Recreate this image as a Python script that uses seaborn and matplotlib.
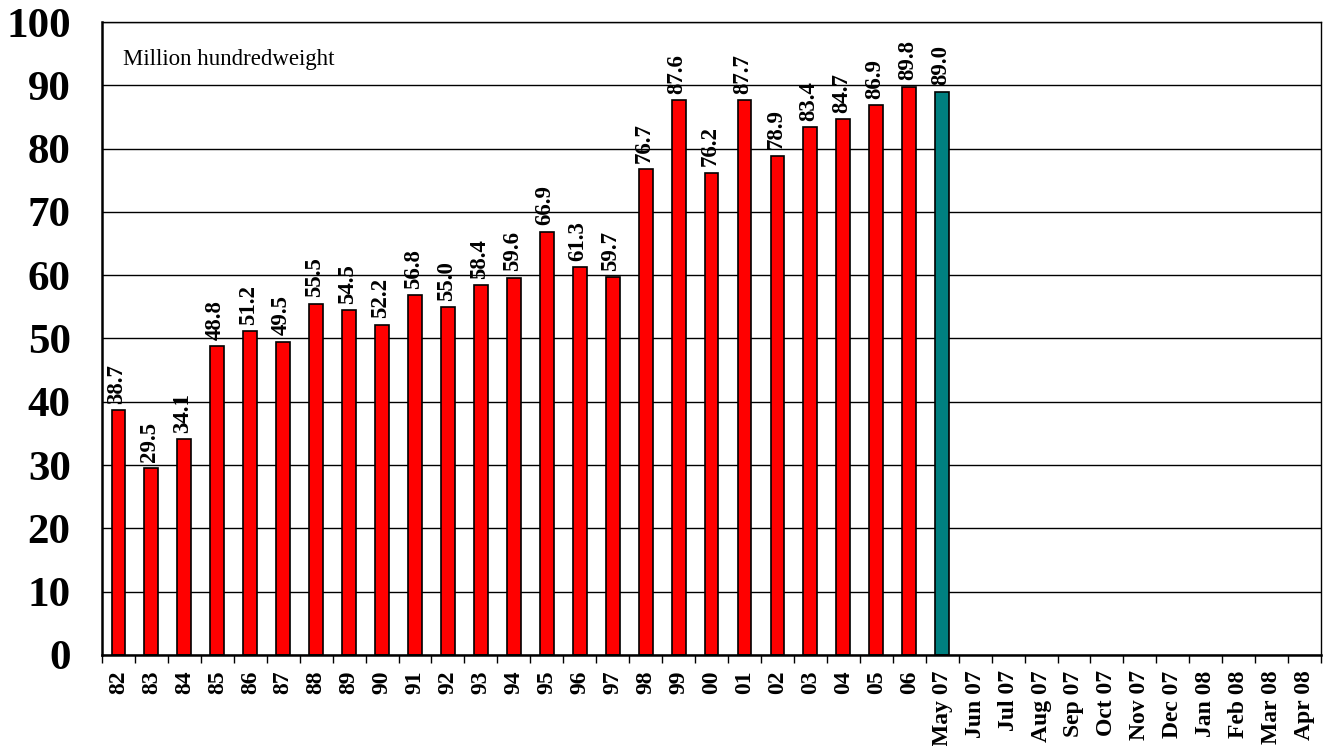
import pandas as pd
import matplotlib.pyplot as plt
import seaborn as sns

years = ["82", "83", "84", "85", "86", "87", "88", "89", "90", "91", "92", "93", "94",
         "95", "96", "97", "98", "99", "00", "01", "02", "03", "04", "05", "06"]
months = ["May 07", "Jun 07", "Jul 07", "Aug 07", "Sep 07", "Oct 07", "Nov 07",
          "Dec 07", "Jan 08", "Feb 08", "Mar 08", "Apr 08"]
year_values = [38.7, 29.5, 34.1, 48.8, 51.2, 49.5, 55.5, 54.5, 52.2, 56.8, 55.0, 58.4, 59.6,
               66.9, 61.3, 59.7, 76.7, 87.6, 76.2, 87.7, 78.9, 83.4, 84.7, 86.9, 89.8]
month_values = [89.0]

labels = years + months
df = pd.DataFrame({
    "period": years + months[:len(month_values)],
    "value": year_values + month_values,
    "kind": ["annual"] * len(years) + ["monthly"] * len(month_values),
})

sns.set_style("white")
plt.rcParams["font.family"] = ["Liberation Serif", "DejaVu Serif"]
plt.rcParams["text.color"] = "black"
plt.rcParams["xtick.color"] = "black"
plt.rcParams["ytick.color"] = "black"

fig = plt.figure(figsize=(13.28, 7.46), dpi=100)
ax = fig.add_axes([0.0768, 0.122, 0.918, 0.8485])

sns.barplot(data=df, x="period", y="value", hue="kind", order=labels,
            palette={"annual": "#ff0000", "monthly": "#008080"}, saturation=1,
            dodge=False, width=0.42, edgecolor="black", linewidth=1.2,
            legend=False, ax=ax)

for i, row in df.iterrows():
    ax.text(labels.index(row["period"]) - 0.05, row["value"] + 1.0, f"{row['value']:.1f}",
            rotation=90, ha="center", va="bottom", fontsize=16.5, fontweight="bold")

ax.set_xlim(-0.5, len(labels) - 0.5)
ax.set_ylim(0, 100)
ax.set_yticks(range(0, 101, 10))
ax.tick_params(axis="y", labelsize=31, length=9.5, width=1, pad=13)
for t in ax.get_yticklabels():
    t.set_fontweight("bold")

ax.set_xticks(range(len(labels)))
ax.set_xticklabels(labels, rotation=90, fontsize=17, fontweight="bold")
ax.tick_params(axis="x", which="major", length=0, pad=11)
ax.set_xticks([i - 0.5 for i in range(len(labels) + 1)], minor=True)
ax.tick_params(axis="x", which="minor", length=6, width=1, bottom=True)

ax.yaxis.grid(True, color="black", linewidth=1)
ax.set_axisbelow(True)
for s in ["left", "bottom"]:
    ax.spines[s].set_linewidth(1.8)
    ax.spines[s].set_color("black")
for s in ["top", "right"]:
    ax.spines[s].set_linewidth(1)
    ax.spines[s].set_color("black")

ax.set_xlabel("")
ax.set_ylabel("")
ax.text(0.14, 94.0, "Million hundredweight", fontsize=16.5, va="center", ha="left")

plt.savefig("out.png", dpi=100)
